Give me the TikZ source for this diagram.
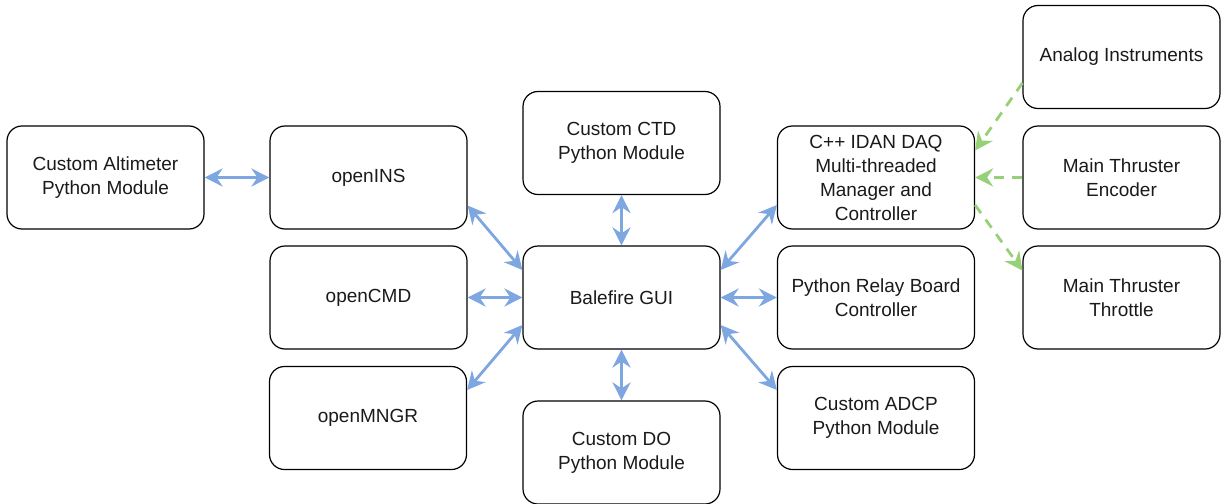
\documentclass[tikz,border=0pt]{standalone}
\usepackage{fontspec}
\setmainfont{Liberation Sans}
\usetikzlibrary{arrows.meta}
\definecolor{bluearr}{HTML}{7EA6E0}
\definecolor{greenarr}{HTML}{97D077}
\definecolor{txt}{HTML}{1A1A1A}
\begin{document}
\begin{tikzpicture}[x=1pt,y=-1pt,
  box/.style={draw=black,line width=1.2pt,rounded corners=15pt,minimum width=197pt,minimum height=103pt,
    align=center,inner sep=0pt,text=txt,font=\fontsize{19}{24}\selectfont},
  barr/.style={draw=bluearr,line width=2.8pt,{Stealth[length=18pt,width=18pt,inset=6pt]}-{Stealth[length=18pt,width=18pt,inset=6pt]}},
  garr/.style={draw=greenarr,line width=2.8pt,dash pattern=on 10pt off 8pt,-{Stealth[length=18pt,width=18pt,inset=6pt]}}]
\useasboundingbox (0,0) rectangle (1225,503);
\node[box] (alt) at (105.5,177.5) {Custom Altimeter\\Python Module};
\node[box] (ins) at (368.5,177.5) {openINS};
\node[box] (cmd) at (368.5,297.5) {openCMD};
\node[box] (mngr) at (368,418) {openMNGR};
\node[box] (ctd) at (621.5,143) {Custom CTD\\Python Module};
\node[box] (gui) at (621.5,297.5) {Balefire GUI};
\node[box] (do) at (621.5,452.5) {Custom DO\\Python Module};
\node[box] (daq) at (876,177.5) {C++ IDAN DAQ\\Multi-threaded\\Manager and\\Controller};
\node[box] (relay) at (876,297.5) {Python Relay Board\\Controller};
\node[box] (adcp) at (876,418) {Custom ADCP\\Python Module};
\node[box] (analog) at (1121.5,57) {Analog Instruments};
\node[box] (enc) at (1121.5,177.5) {Main Thruster\\Encoder};
\node[box] (thr) at (1121.5,297.5) {Main Thruster\\Throttle};
% blue connectors
\draw[barr] (alt.east) -- (ins.west);
\draw[barr] ([yshift=-28pt]ins.east) -- ([yshift=27.5pt]gui.west);
\draw[barr] (cmd.east) -- (gui.west);
\draw[barr] ([yshift=-27.5pt]gui.west) -- ([yshift=28pt]mngr.east);
\draw[barr] (ctd.south) -- (gui.north);
\draw[barr] (gui.south) -- (do.north);
\draw[barr] ([yshift=27.5pt]gui.east) -- ([yshift=-27.5pt]daq.east -| daq.west);
\draw[barr] (gui.east) -- (relay.west);
\draw[barr] ([yshift=-27.5pt]gui.east) -- ([yshift=28pt]adcp.west);
% green connectors
\draw[garr] ([yshift=-26pt]analog.west) -- ([yshift=27pt]daq.east);
\draw[garr] (enc.west) -- (daq.east);
\draw[garr] ([yshift=-27.5pt]daq.east) -- ([yshift=27pt]thr.west);
\end{tikzpicture}
\end{document}
